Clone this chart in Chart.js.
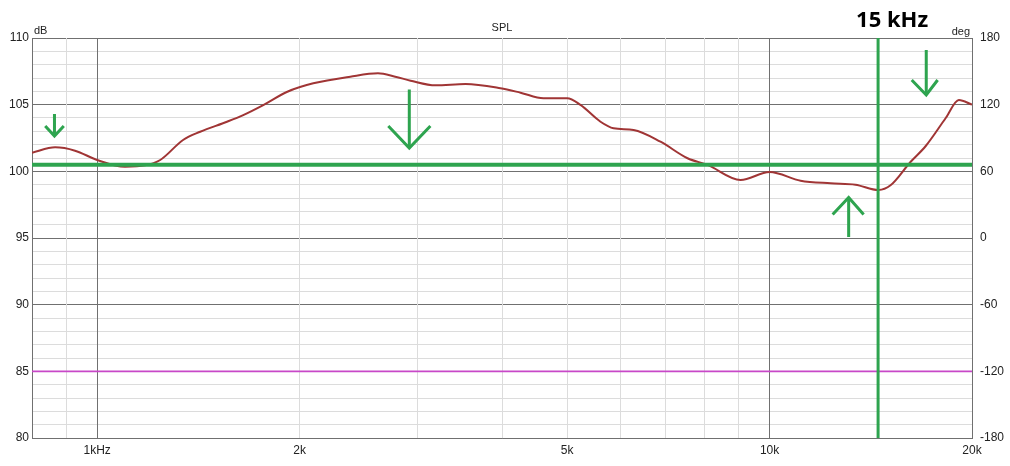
<!DOCTYPE html>
<html>
<head>
<meta charset="utf-8">
<script src="https://cdn.jsdelivr.net/npm/chart.js@4/dist/chart.umd.min.js"></script>
<style>
    html, body { margin: 0; padding: 0; background: #fff; }
    #wrap { width: 1010px; height: 466px; }
</style>
</head>
<body>
<div id="wrap"><canvas id="spl"></canvas></div>
<script>
// SPL curve (Hz / dB)
const freqs = [800, 866, 927, 1000, 1100, 1179, 1241, 1342, 1423, 1560, 1649, 1766, 1918, 2096, 2379,
    2616, 2775, 2925, 3186, 3530, 3979, 4262, 4610, 5000, 5233, 5605, 5861, 6277, 6883, 7551,
    8086, 9054, 10000, 11120, 12320, 13420, 14520, 15130, 16200, 17070, 18280, 19120, 20000];
const spl = [101.4, 101.8, 101.55, 100.85, 100.35, 100.45, 100.85, 102.35, 102.97, 103.72, 104.22, 104.97, 105.97, 106.6, 107.1,
    107.35, 107.1, 106.8, 106.45, 106.55, 106.23, 105.9, 105.48, 105.48, 104.98, 103.72, 103.23, 103.1, 102.22, 100.98,
    100.48, 99.35, 99.95, 99.3, 99.1, 99.0, 98.6, 98.95, 100.7, 101.9, 104.0, 105.35, 105.0];

// markers
const refLevel = 100.5;      // horizontal green line, dB
const markFreq = 14500;      // vertical green line, Hz
const phaseLevel = -120;     // flat magenta line, deg

// arrows: [shaft start, tip, wing left, wing right] as [Hz, dB]
const arrows = [
    [[864, 104.3], [864, 102.65], [837, 103.4], [892, 103.4]],
    [[2912, 106.14], [2912, 101.75], [2710, 103.4], [3130, 103.4]],
    [[13110, 95.08], [13110, 98.04], [12410, 96.76], [13800, 96.76]],
    [[17100, 109.1], [17100, 105.73], [16270, 106.85], [17780, 106.85]]
];

// axis ticks
const gridFreqs = [900, 1000, 2000, 3000, 4000, 5000, 6000, 7000, 8000, 9000, 10000, 20000];
const freqLabels = {1000: '1kHz', 2000: '2k', 5000: '5k', 10000: '10k', 20000: '20k'};

const green = '#2ea44f';
const darkGrid = '#707070';
const lightGrid = '#dcdcdc';
const font = {family: 'Liberation Sans', size: 12};

const shafts = [];
const heads = [];
arrows.forEach(a => {
    shafts.push({x: a[0][0], y: a[0][1]}, {x: a[1][0], y: a[1][1]}, {x: a[1][0], y: null});
    heads.push({x: a[2][0], y: a[2][1]}, {x: a[1][0], y: a[1][1]}, {x: a[3][0], y: a[3][1]}, {x: a[3][0], y: null});
});

const textPlugin = {
    id: 'texts',
    afterDraw(chart) {
        const c = chart.ctx;
        const area = chart.chartArea;
        c.save();
        c.fillStyle = '#222';
        c.font = '11px "Liberation Sans"';
        c.textBaseline = 'alphabetic';
        c.textAlign = 'center';
        c.fillText('SPL', (area.left + area.right) / 2, 31);
        c.textAlign = 'left';
        c.fillText('dB', area.left + 2, 34);
        c.textAlign = 'right';
        c.fillText('deg', area.right - 2, 35);
        c.fillStyle = '#000';
        c.font = 'bold 22px "Open Sans"';
        c.textAlign = 'center';
        c.fillText('15 kHz', chart.scales.x.getPixelForValue(markFreq) + 14, 27);
        c.restore();
    }
};

new Chart(document.getElementById('spl'), {
    type: 'line',
    data: {
        datasets: [
            {
                label: 'ref',
                data: [{x: 800, y: refLevel}, {x: 20000, y: refLevel}],
                borderColor: green, borderWidth: 4, pointRadius: 0, order: 1
            },
            {
                label: 'mark',
                data: [{x: markFreq, y: 80}, {x: markFreq, y: 110}],
                borderColor: green, borderWidth: 3, pointRadius: 0, order: 1
            },
            {
                label: 'shafts',
                data: shafts,
                borderColor: green, borderWidth: 3, pointRadius: 0, spanGaps: false, order: 1
            },
            {
                label: 'heads',
                data: heads,
                borderColor: green, borderWidth: 3, pointRadius: 0, spanGaps: false, order: 1
            },
            {
                label: 'SPL',
                data: freqs.map((f, i) => ({x: f, y: spl[i]})),
                borderColor: '#a03535', borderWidth: 2, pointRadius: 0,
                cubicInterpolationMode: 'monotone', order: 2
            },
            {
                label: 'phase',
                data: [{x: 800, y: phaseLevel}, {x: 20000, y: phaseLevel}],
                yAxisID: 'y2',
                borderColor: '#c848c8', borderWidth: 1.6, pointRadius: 0, order: 3
            }
        ]
    },
    options: {
        responsive: true,
        maintainAspectRatio: false,
        animation: false,
        layout: {padding: {top: 38, left: 0, right: 0, bottom: 0}},
        plugins: {legend: {display: false}, tooltip: {enabled: false}},
        scales: {
            x: {
                type: 'logarithmic',
                min: 800,
                max: 20000,
                afterBuildTicks: scale => {
                    scale.ticks = gridFreqs.map(v => ({value: v}));
                },
                afterFit: scale => { scale.height = 28; },
                ticks: {
                    autoSkip: false, maxRotation: 0, padding: 5, color: '#222', font: font,
                    callback: v => freqLabels[v] || ''
                },
                grid: {
                    z: -1,
                    drawTicks: false,
                    color: ctx => (ctx.tick && (ctx.tick.value === 1000 || ctx.tick.value === 10000)) ? darkGrid : lightGrid
                },
                border: {color: darkGrid}
            },
            y: {
                position: 'left',
                min: 80,
                max: 110,
                afterFit: scale => { scale.width = 32; },
                ticks: {
                    stepSize: 1, autoSkip: false, padding: 3, color: '#222', font: font,
                    callback: v => v % 5 === 0 ? v : ''
                },
                grid: {
                    z: -2,
                    drawTicks: false,
                    color: ctx => (ctx.tick && ctx.tick.value % 5 === 0) ? darkGrid : lightGrid
                },
                border: {color: darkGrid}
            },
            y2: {
                position: 'right',
                min: -180,
                max: 180,
                afterFit: scale => { scale.width = 38; },
                ticks: {stepSize: 60, padding: 8, color: '#222', font: font},
                grid: {drawOnChartArea: false, drawTicks: false},
                border: {color: darkGrid}
            }
        }
    },
    plugins: [textPlugin]
});
</script>
</body>
</html>
